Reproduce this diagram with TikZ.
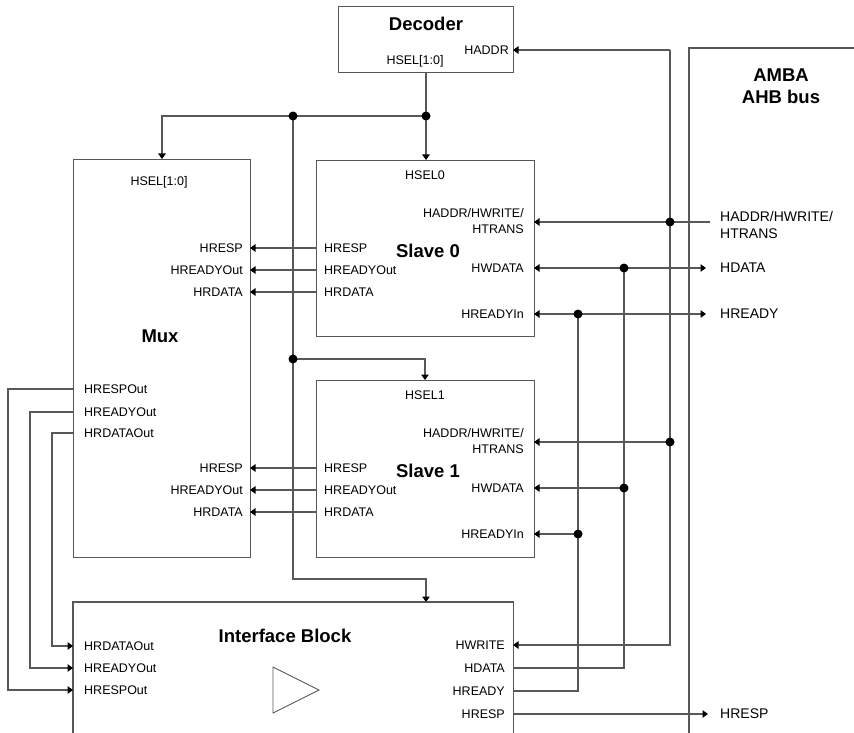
\documentclass[tikz,border=0pt]{standalone}
\usepackage{fontspec}
\setmainfont{Liberation Sans}
\usetikzlibrary{arrows.meta}
\definecolor{ln}{RGB}{88,88,88}
\begin{document}
\begin{tikzpicture}[x=1pt,y=-1pt,
  box/.style={draw=ln,line width=1.1pt,rectangle,inner sep=0,anchor=north west},
  frame/.style={rectangle,inner sep=0,anchor=north west},
  wire/.style={draw=ln,line width=1.1pt},
  arr/.style={wire,-{Triangle[length=5.5pt,width=7.5pt,color=black]}},
  barr/.style={wire,{Triangle[length=5.5pt,width=7.5pt,color=black]}-{Triangle[length=5.5pt,width=7.5pt,color=black]}},
  dot/.style={circle,fill=black,inner sep=0,minimum size=9pt},
  lbl/.style={inner sep=0,font=\fontsize{12.5}{16}\selectfont},
  big/.style={inner sep=0,font=\fontsize{14}{17}\selectfont},
  ttl/.style={inner sep=0,font=\fontsize{18.5}{22}\selectfont\bfseries},
]
\useasboundingbox (0,0) rectangle (854,733);

% ---- boxes
\node[box,minimum width=175pt,minimum height=66pt] (dec) at (338,6) {};
\node[box,minimum width=177pt,minimum height=398pt] (mux) at (73,159) {};
\node[box,minimum width=218pt,minimum height=176pt] (s0) at (316,160) {};
\node[box,minimum width=218pt,minimum height=177pt] (s1) at (316,380) {};
\node[frame,minimum width=440pt,minimum height=131pt] (ib) at (73,602) {};
\draw[wire] (ib.south west) -- (ib.north west) -- (ib.north east) -- (ib.south east);
\node[frame,minimum width=165pt,minimum height=685pt] (amba) at (689,48) {};
\draw[wire] (amba.south west) -- (amba.north west) -- (amba.north east);
\draw[draw=ln,line width=0.9pt] (273,667) -- (273,713) -- (319,690) -- cycle;

% ---- titles
\node[ttl] (tdec) at (426,24) {Decoder};
\node[ttl] (tmux) at (160,336) {Mux};
\node[ttl] (ts0) at (428,251) {Slave 0};
\node[ttl] (ts1) at (428,471) {Slave 1};
\node[ttl] (tib) at (285,636) {Interface Block};
\node[ttl,align=center] (tamba) at (781,86) {AMBA\\AHB bus};

% ---- decoder labels
\node[lbl] (ldsel) at (415,61) {HSEL[1:0]};
\node[lbl,anchor=east] (ldhaddr) at (509,50) {HADDR};

% ---- mux labels
\node[lbl] (lmsel) at (159,182) {HSEL[1:0]};
\foreach \y/\t [count=\i] in {248/HRESP,270/HREADYOut,292/HRDATA,468/HRESP,490/HREADYOut,512/HRDATA}
  \node[lbl,anchor=east] (lmr\i) at (243,\y) {\t};
\node[lbl,anchor=west] (lml1) at (84,389) {HRESPOut};
\node[lbl,anchor=west] (lml2) at (84,412) {HREADYOut};
\node[lbl,anchor=west] (lml3) at (84,433) {HRDATAOut};

% ---- slave labels
\foreach \s/\o in {0/0,1/220} {
  \node[lbl] (lsel\s) at (425,175+\o) {HSEL\s};
  \node[lbl,anchor=west] (lsa\s) at (324,248+\o) {HRESP};
  \node[lbl,anchor=west] (lsb\s) at (324,270+\o) {HREADYOut};
  \node[lbl,anchor=west] (lsc\s) at (324,292+\o) {HRDATA};
  \node[lbl,anchor=east,align=right] (lsd\s) at (524,221+\o) {HADDR/HWRITE/\\HTRANS};
  \node[lbl,anchor=east] (lse\s) at (524,268+\o) {HWDATA};
  \node[lbl,anchor=east] (lsf\s) at (524,314+\o) {HREADYIn};
}

% ---- interface labels
\node[lbl,anchor=west] (lil1) at (84,646) {HRDATAOut};
\node[lbl,anchor=west] (lil2) at (84,668) {HREADYOut};
\node[lbl,anchor=west] (lil3) at (84,690) {HRESPOut};
\node[lbl,anchor=east] (lir1) at (505,645) {HWRITE};
\node[lbl,anchor=east] (lir2) at (505,668) {HDATA};
\node[lbl,anchor=east] (lir3) at (505,691) {HREADY};
\node[lbl,anchor=east] (lir4) at (505,714) {HRESP};

% ---- bus labels
\node[big,anchor=west,align=left] (bhaddr) at (720,225) {HADDR/HWRITE/\\HTRANS};
\node[big,anchor=west] (bhdata) at (720,268) {HDATA};
\node[big,anchor=west] (bhready) at (720,314) {HREADY};
\node[big,anchor=west] (bhresp) at (720,714) {HRESP};

% ---- coordinates
\coordinate (decout) at (426,72);
\coordinate (jA) at (426,116);
\coordinate (jB) at (293,116);
\coordinate (jC) at (293,359);
\coordinate (bend) at (293,579);
\coordinate (muxin) at (162,159);
\coordinate (s0in) at (426,160);
\coordinate (s1in) at (425,380);
\coordinate (ibin) at (426,602);

\coordinate (dechaddr) at (513,50);
\coordinate (hcorner) at (670,50);
\coordinate (jH1) at (670,442);
\coordinate (jH0) at (670,222);
\coordinate (haddrin) at (710,222);
\coordinate (s0haddr) at (534,222);
\coordinate (s1haddr) at (534,442);
\coordinate (ibhwrite) at (513,645);

\coordinate (s0hw) at (534,268);
\coordinate (s1hw) at (534,488);
\coordinate (jD0) at (624,268);
\coordinate (jD1) at (624,488);
\coordinate (hdataout) at (706,268);
\coordinate (ibhdata) at (513,668);

\coordinate (s0hr) at (534,314);
\coordinate (s1hr) at (534,534);
\coordinate (jR0) at (578,314);
\coordinate (jR1) at (578,534);
\coordinate (hreadyout) at (706,314);
\coordinate (ibhready) at (513,691);

\coordinate (ibhresp) at (513,714);
\coordinate (hrespout) at (708,714);

% ---- wires
\draw[wire] (decout) -- (jA);
\draw[arr] (jA) -- (s0in);
\draw[arr] (jA) -| (muxin);
\draw[arr] (jB) -- (bend) -| (ibin);
\draw[arr] (jC) -| (s1in);

\draw[arr] (hcorner) -- (dechaddr);
\draw[arr] (hcorner) |- (ibhwrite);
\draw[arr] (haddrin) -- (s0haddr);
\draw[arr] (jH1) -- (s1haddr);

\draw[barr] (s0hw) -- (hdataout);
\draw[wire] (jD0) |- (ibhdata);
\draw[arr] (jD1) -- (s1hw);

\draw[barr] (s0hr) -- (hreadyout);
\draw[wire] (jR0) |- (ibhready);
\draw[arr] (jR1) -- (s1hr);

\draw[arr] (ibhresp) -- (hrespout);

\foreach \y [count=\i] in {248,270,292,468,490,512} {
  \coordinate (sl\i) at (316,\y);
  \coordinate (mr\i) at (250,\y);
  \draw[arr] (sl\i) -- (mr\i);
}
\foreach \ya/\xb/\yc [count=\i] in {389/8/690,412/30/668,433/52/646} {
  \coordinate (ml\i) at (73,\ya);
  \coordinate (mb\i) at (\xb,\ya);
  \coordinate (il\i) at (73,\yc);
  \draw[arr] (ml\i) -- (mb\i) |- (il\i);
}

% ---- junction dots
\foreach \j in {jA,jB,jC,jH0,jH1,jD0,jD1,jR0,jR1}
  \node[dot] (dot\j) at (\j) {};
\end{tikzpicture}
\end{document}
